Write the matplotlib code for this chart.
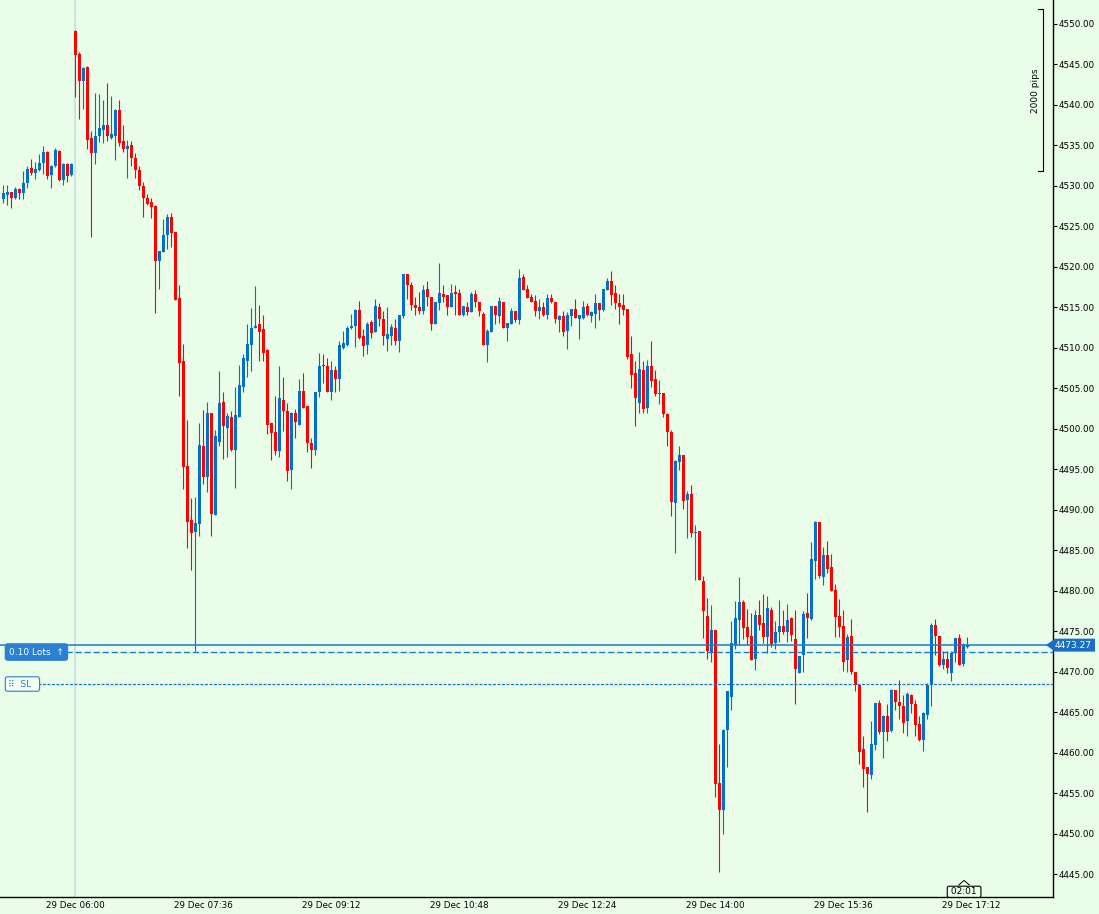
import numpy as np
import matplotlib
matplotlib.use("Agg")
import matplotlib.pyplot as plt
from matplotlib.patches import Polygon

# 3-minute candles, index 0 = 29 Dec 06:00 (session start)
first_index = -18

opens = [
    4528.4, 4528.9, 4529.2, 4528.5, 4529.6, 4529.1, 4530.4, 4532.2, 4531.6, 4532.0,
    4532.8, 4534.2, 4531.4, 4532.5, 4534.3, 4530.7, 4532.7, 4531.4,
    4549.1, 4546.3, 4542.9, 4544.7, 4535.9, 4534.0, 4536.1, 4536.9, 4537.5, 4535.9,
    4536.2, 4539.4, 4535.6, 4534.6, 4535.0, 4533.5, 4532.0, 4530.0, 4528.5, 4528.0,
    4527.5, 4520.7, 4521.8, 4523.9, 4526.2, 4524.3, 4516.1, 4508.4, 4495.4, 4488.7,
    4487.2, 4488.2, 4497.9, 4494.1, 4501.9, 4489.4, 4498.4, 4503.3, 4500.1, 4501.5,
    4497.4, 4501.4, 4505.1, 4508.4, 4510.4, 4512.5, 4513.0, 4512.3, 4509.7, 4500.7,
    4499.6, 4497.2, 4503.6, 4502.2, 4494.9, 4501.9, 4500.5, 4504.7, 4502.8, 4498.3,
    4497.4, 4504.5, 4507.8, 4507.7, 4504.5, 4507.3, 4506.1, 4510.0, 4510.4, 4512.5,
    4512.7, 4514.7, 4511.4, 4510.3, 4513.2, 4511.9, 4515.1, 4513.5, 4511.1, 4511.5,
    4512.5, 4510.8, 4513.9, 4519.1, 4517.8, 4515.3, 4515.0, 4514.6, 4517.3, 4516.3,
    4512.9, 4515.5, 4516.7, 4516.5, 4515.0, 4516.8, 4516.8, 4514.1, 4515.1, 4514.4,
    4516.6, 4515.7, 4514.2, 4510.4, 4511.9, 4515.2, 4513.9, 4515.7, 4512.5, 4513.0,
    4514.5, 4513.4, 4518.7, 4517.3, 4516.3, 4515.8, 4514.6, 4515.1, 4514.1, 4516.2,
    4515.6, 4513.4, 4513.9, 4512.1, 4513.9, 4514.8, 4513.5, 4513.7, 4515.2, 4513.9,
    4514.2, 4515.5, 4514.7, 4517.2, 4518.2, 4516.8, 4515.5, 4515.3, 4514.8, 4509.2,
    4506.9, 4503.2, 4507.2, 4502.6, 4507.8, 4506.1, 4504.3, 4504.4, 4501.8, 4499.6,
    4490.8, 4495.9, 4496.7, 4491.2, 4491.9, 4487.1, 4487.4, 4481.2, 4476.9, 4472.4,
    4475.1, 4456.2, 4452.9, 4462.8, 4466.9, 4473.3, 4476.4, 4478.6, 4475.5, 4474.4,
    4471.5, 4477.0, 4476.0, 4474.3, 4477.6, 4473.5, 4474.9, 4475.6, 4474.9, 4476.6,
    4474.0, 4469.8, 4472.0, 4477.2, 4476.5, 4483.7, 4488.5, 4481.7, 4484.4, 4482.9,
    4480.1, 4476.9, 4475.6, 4471.4, 4474.4, 4470.0, 4468.3, 4460.4, 4458.2, 4457.2,
    4460.9, 4466.1, 4462.6, 4464.5, 4462.7, 4467.7, 4466.3, 4465.7, 4463.9, 4467.1,
    4466.0, 4463.5, 4461.5, 4464.6, 4468.3, 4475.7, 4474.4, 4470.8, 4471.5, 4469.8,
    4472.3, 4474.1, 4470.9, 4473.0,
]
highs = [
    4530.1, 4530.1, 4529.3, 4529.9, 4529.7, 4531.8, 4532.5, 4533.3, 4533.0, 4533.9,
    4534.9, 4534.3, 4532.6, 4534.7, 4534.4, 4532.8, 4532.8, 4532.8,
    4549.3, 4546.5, 4544.7, 4544.8, 4536.8, 4541.5, 4541.3, 4540.6, 4542.7, 4541.1,
    4539.5, 4540.6, 4537.5, 4535.7, 4535.5, 4534.0, 4532.5, 4530.5, 4529.0, 4528.5,
    4527.6, 4521.9, 4525.9, 4526.5, 4526.7, 4524.3, 4517.8, 4510.5, 4501.1, 4491.5,
    4491.6, 4500.7, 4502.3, 4503.3, 4501.9, 4499.9, 4507.1, 4504.5, 4501.9, 4502.2,
    4505.1, 4507.9, 4509.2, 4513.0, 4514.9, 4517.6, 4515.3, 4514.0, 4509.8, 4500.7,
    4504.1, 4507.8, 4506.4, 4503.2, 4502.1, 4502.5, 4506.2, 4506.9, 4502.8, 4498.9,
    4504.6, 4509.4, 4509.2, 4508.8, 4508.4, 4507.7, 4510.9, 4512.1, 4512.7, 4514.2,
    4514.8, 4515.8, 4512.3, 4513.2, 4513.4, 4516.0, 4515.5, 4514.5, 4515.0, 4512.9,
    4513.6, 4514.0, 4519.1, 4519.1, 4518.1, 4516.3, 4516.9, 4517.7, 4518.3, 4516.3,
    4515.7, 4520.5, 4517.8, 4516.5, 4517.9, 4517.7, 4517.3, 4515.2, 4515.6, 4516.9,
    4517.2, 4515.7, 4514.4, 4512.3, 4515.2, 4515.2, 4516.3, 4515.7, 4513.1, 4514.9,
    4514.5, 4519.7, 4519.1, 4517.7, 4516.7, 4516.5, 4516.0, 4515.7, 4516.6, 4516.6,
    4515.6, 4514.1, 4514.6, 4514.4, 4514.8, 4516.0, 4514.1, 4515.8, 4515.5, 4514.6,
    4516.6, 4515.5, 4517.3, 4518.6, 4519.5, 4517.8, 4516.7, 4516.7, 4514.8, 4511.4,
    4508.4, 4509.5, 4508.4, 4508.5, 4510.8, 4507.2, 4506.0, 4504.4, 4502.0, 4499.8,
    4496.2, 4497.9, 4496.7, 4492.3, 4493.1, 4488.1, 4487.4, 4481.8, 4479.1, 4478.2,
    4475.1, 4461.0, 4462.9, 4467.6, 4476.2, 4478.7, 4481.7, 4478.9, 4477.7, 4477.3,
    4477.6, 4478.9, 4479.6, 4479.3, 4478.0, 4476.2, 4478.8, 4477.6, 4478.3, 4476.7,
    4477.6, 4471.9, 4477.5, 4479.7, 4486.0, 4488.6, 4488.5, 4485.4, 4486.1, 4484.5,
    4480.8, 4479.0, 4477.6, 4474.6, 4476.5, 4470.0, 4468.3, 4462.1, 4458.2, 4463.9,
    4466.1, 4466.5, 4464.7, 4466.0, 4467.8, 4467.7, 4469.0, 4467.1, 4467.5, 4467.2,
    4466.5, 4464.5, 4465.0, 4468.6, 4476.0, 4476.5, 4474.4, 4472.5, 4472.6, 4472.6,
    4474.1, 4474.6, 4473.5, 4474.3,
]
lows = [
    4527.9, 4527.6, 4527.3, 4528.4, 4528.4, 4528.4, 4529.7, 4531.4, 4530.9, 4531.8,
    4531.5, 4530.9, 4529.7, 4532.3, 4530.6, 4530.1, 4530.5, 4531.2,
    4541.0, 4538.3, 4539.5, 4534.6, 4523.7, 4532.7, 4535.4, 4535.3, 4535.6, 4535.8,
    4533.2, 4534.9, 4534.2, 4531.0, 4532.5, 4531.0, 4529.5, 4526.2, 4527.6, 4526.0,
    4514.3, 4517.3, 4521.8, 4522.2, 4522.4, 4515.9, 4504.1, 4492.6, 4485.3, 4482.5,
    4472.5, 4486.7, 4493.2, 4492.2, 4486.7, 4489.4, 4497.9, 4496.3, 4496.5, 4497.3,
    4492.7, 4501.4, 4504.5, 4506.4, 4507.1, 4512.5, 4508.4, 4508.4, 4499.4, 4496.1,
    4496.7, 4496.5, 4499.7, 4493.6, 4492.5, 4498.9, 4500.5, 4502.6, 4497.1, 4495.1,
    4496.7, 4503.9, 4505.7, 4504.5, 4503.5, 4504.5, 4504.7, 4509.8, 4510.2, 4512.3,
    4510.1, 4511.1, 4509.0, 4509.2, 4511.2, 4511.9, 4512.7, 4510.4, 4509.6, 4510.3,
    4510.4, 4509.5, 4513.7, 4516.0, 4514.7, 4514.1, 4514.2, 4514.2, 4515.2, 4512.2,
    4512.9, 4514.7, 4515.7, 4514.1, 4515.0, 4514.1, 4514.0, 4513.9, 4514.1, 4514.4,
    4515.0, 4513.9, 4510.3, 4508.2, 4511.9, 4513.0, 4513.1, 4512.5, 4510.9, 4513.0,
    4513.2, 4513.0, 4517.2, 4516.2, 4515.6, 4513.9, 4513.6, 4513.9, 4513.6, 4515.5,
    4513.1, 4511.9, 4511.5, 4509.9, 4512.7, 4513.7, 4511.1, 4513.5, 4513.9, 4513.2,
    4512.4, 4513.4, 4514.6, 4517.2, 4515.3, 4514.8, 4513.0, 4514.0, 4508.6, 4505.0,
    4500.3, 4502.0, 4501.9, 4502.0, 4505.2, 4504.1, 4503.0, 4501.4, 4497.9, 4489.2,
    4484.7, 4494.9, 4490.1, 4486.5, 4486.6, 4481.3, 4481.3, 4474.1, 4471.6, 4471.2,
    4454.5, 4445.3, 4449.9, 4458.2, 4465.3, 4472.8, 4473.3, 4474.0, 4473.3, 4471.4,
    4470.2, 4475.2, 4473.5, 4472.3, 4473.0, 4472.8, 4473.6, 4474.6, 4473.6, 4473.8,
    4466.0, 4469.8, 4469.9, 4474.1, 4476.4, 4481.4, 4481.6, 4480.7, 4482.2, 4480.0,
    4474.3, 4474.3, 4470.1, 4469.9, 4469.7, 4467.6, 4458.6, 4455.7, 4452.7, 4456.7,
    4460.3, 4462.3, 4459.3, 4461.4, 4462.6, 4465.3, 4464.2, 4462.4, 4462.0, 4464.9,
    4462.1, 4461.4, 4460.2, 4464.2, 4465.8, 4472.0, 4470.7, 4470.3, 4469.8, 4468.9,
    4471.2, 4470.8, 4470.7, 4472.9,
]
closes = [
    4529.1, 4529.3, 4528.5, 4529.6, 4529.1, 4530.4, 4532.1, 4531.6, 4532.1, 4532.8,
    4534.2, 4531.2, 4532.5, 4534.4, 4530.7, 4532.7, 4531.2, 4532.7,
    4546.2, 4542.9, 4544.6, 4535.7, 4534.0, 4536.2, 4537.2, 4537.5, 4536.2, 4536.4,
    4539.4, 4535.3, 4534.6, 4534.9, 4533.5, 4532.0, 4530.0, 4528.5, 4527.8, 4527.4,
    4520.7, 4521.9, 4523.9, 4526.2, 4524.2, 4515.9, 4508.1, 4495.3, 4488.5, 4487.1,
    4488.3, 4498.0, 4494.0, 4502.0, 4489.5, 4499.1, 4503.2, 4500.3, 4501.6, 4497.4,
    4501.7, 4505.4, 4508.7, 4510.5, 4512.5, 4512.6, 4512.0, 4509.3, 4500.5, 4499.5,
    4497.2, 4503.8, 4502.2, 4494.8, 4502.0, 4500.8, 4504.7, 4502.6, 4498.3, 4497.4,
    4504.6, 4507.7, 4507.7, 4504.5, 4507.3, 4506.2, 4510.3, 4510.6, 4512.5, 4512.6,
    4514.7, 4511.2, 4510.2, 4512.9, 4511.8, 4515.2, 4513.5, 4511.4, 4511.7, 4512.6,
    4510.8, 4514.0, 4519.1, 4517.8, 4515.3, 4514.9, 4514.6, 4517.2, 4516.3, 4512.9,
    4515.7, 4516.8, 4516.3, 4515.0, 4516.8, 4516.7, 4514.0, 4515.2, 4514.4, 4516.6,
    4515.6, 4514.5, 4510.3, 4512.1, 4515.2, 4514.0, 4515.8, 4512.5, 4513.1, 4514.5,
    4513.4, 4518.6, 4517.2, 4516.2, 4515.7, 4514.5, 4515.1, 4514.0, 4516.2, 4515.6,
    4513.5, 4513.9, 4511.9, 4514.0, 4514.8, 4513.7, 4514.1, 4515.1, 4514.0, 4514.4,
    4515.5, 4514.7, 4517.3, 4518.2, 4516.5, 4515.5, 4515.1, 4514.7, 4508.9, 4506.6,
    4503.8, 4507.4, 4502.5, 4507.8, 4505.9, 4504.3, 4504.4, 4501.8, 4499.6, 4490.9,
    4496.0, 4496.7, 4491.1, 4491.9, 4487.1, 4487.2, 4481.3, 4477.5, 4472.5, 4475.2,
    4456.1, 4452.9, 4462.8, 4467.6, 4473.5, 4476.6, 4478.6, 4475.4, 4474.3, 4471.4,
    4477.0, 4475.7, 4474.3, 4477.8, 4473.4, 4474.9, 4475.6, 4474.9, 4476.4, 4474.5,
    4470.3, 4471.9, 4477.1, 4476.6, 4483.9, 4488.5, 4481.8, 4484.4, 4482.7, 4480.0,
    4476.7, 4475.5, 4471.2, 4474.3, 4469.9, 4468.3, 4460.1, 4458.0, 4457.4, 4461.1,
    4466.1, 4462.5, 4464.5, 4462.6, 4467.7, 4466.2, 4465.7, 4463.7, 4467.2, 4466.0,
    4463.4, 4461.5, 4464.9, 4468.4, 4475.7, 4474.4, 4470.8, 4471.5, 4470.5, 4472.3,
    4474.1, 4470.8, 4473.3, 4473.27,
]

time_ticks = [0, 32, 64, 96, 128, 160, 192, 224]
time_labels = ["29 Dec 06:00", "29 Dec 07:36", "29 Dec 09:12", "29 Dec 10:48",
               "29 Dec 12:24", "29 Dec 14:00", "29 Dec 15:36", "29 Dec 17:12"]
price_ticks = np.arange(4445, 4551, 5)

bid = 4473.27
lots_price = 4472.42
sl_price = 4468.47
pips_top = 4551.8
pips_span = 20.0
countdown = "02:01"

BG = "#eafde8"
UP = "#0070c8"
DOWN = "#ff0000"
LINE = "#1f78d0"

fig = plt.figure(figsize=(10.99, 9.14), dpi=100, facecolor=BG)
ax = fig.add_axes([0, 17 / 914, 1053 / 1099, 897 / 914], facecolor=BG)

o = np.array(opens)
h = np.array(highs)
l = np.array(lows)
c = np.array(closes)
x = np.arange(len(o)) + first_index
cols = np.where(c >= o, UP, DOWN)

# session separator
ax.axvline(0, color="#c9dde2", lw=1.2, zorder=0)

ax.vlines(x, l, h, colors=cols, lw=0.8, zorder=2)
ax.bar(x, np.maximum(np.abs(c - o), 0.13), bottom=np.minimum(o, c), width=0.75,
       color=cols, linewidth=0, zorder=3)

# trade lines
ax.axhline(bid, color=LINE, lw=1.1, zorder=4)
ax.axhline(lots_price, xmin=66 / 1053, color=LINE, lw=1.0,
           linestyle=(0, (4.5, 2.0)), zorder=4)
ax.axhline(sl_price, xmin=38 / 1053, color=LINE, lw=0.9,
           linestyle=(0, (2.4, 1.2)), zorder=4)

ytr = ax.get_yaxis_transform()
ax.text(9 / 1053, lots_price, "0.10 Lots  \u2191", transform=ytr, ha="left", va="center",
        fontsize=6.5, color="white", zorder=6,
        bbox=dict(boxstyle="round,pad=0.4,rounding_size=0.25", fc="#2a80d2", ec="#2a80d2"))
ax.text(8 / 1053, sl_price, "\u283f  SL  ", transform=ytr, ha="left", va="center",
        fontsize=6.5, color="#2f7fc8", zorder=6,
        bbox=dict(boxstyle="round,pad=0.3,rounding_size=0.25", fc="#f4fbf4", ec="#2f7fc8", lw=0.8))

# price tag on the right axis
tag = Polygon([(1046 / 1053, bid), (1055 / 1053, bid + 0.8), (1095 / 1053, bid + 0.8),
               (1095 / 1053, bid - 0.8), (1055 / 1053, bid - 0.8)],
              closed=True, transform=ytr, fc="#1a6fc4", ec="none", clip_on=False, zorder=7)
ax.add_patch(tag)
ax.text(1073 / 1053, bid, f"{bid:.2f}", transform=ytr, ha="center", va="center",
        fontsize=6.5, color="white", zorder=8, clip_on=False)

# 2000 pips ruler
bx = 1043 / 1053
ax.plot([1038 / 1053, bx, bx, 1038 / 1053],
        [pips_top, pips_top, pips_top - pips_span, pips_top - pips_span],
        transform=ytr, color="black", lw=0.8, clip_on=False)
ax.text(1035 / 1053, pips_top - pips_span / 2, "2000 pips", transform=ytr, rotation=90,
        ha="center", va="center", fontsize=6.5, color="black")

# candle countdown
xtr = ax.get_xaxis_transform()
ax.text(222.2, 0.0058, " " + countdown + " ", transform=xtr, ha="center", va="center",
        fontsize=6.5, color="black", zorder=8,
        bbox=dict(boxstyle="round,pad=0.12,rounding_size=0.2", fc=BG, ec="black", lw=0.8))
ax.plot([220.9, 222.2, 223.5], [0.0135, 0.0185, 0.0135], transform=xtr, color="black",
        lw=0.7, clip_on=False, zorder=8)

ax.set_xlim(-18.825, 244.425)
ax.set_ylim(4442.16, 4552.96)

ax.yaxis.tick_right()
ax.set_yticks(price_ticks)
ax.set_yticklabels([f"{p:.2f}" for p in price_ticks])
ax.tick_params(axis="y", direction="out", length=3, width=0.8, pad=1,
               labelsize=6.3, colors="black")
ax.set_xticks(time_ticks)
ax.set_xticklabels(time_labels)
ax.tick_params(axis="x", length=0, pad=3, labelsize=6.3, colors="black")

for side in ["top", "left"]:
    ax.spines[side].set_visible(False)
ax.spines["right"].set_linewidth(1.0)
ax.spines["bottom"].set_linewidth(1.0)

fig.savefig("out.png", dpi=100, facecolor=BG)
